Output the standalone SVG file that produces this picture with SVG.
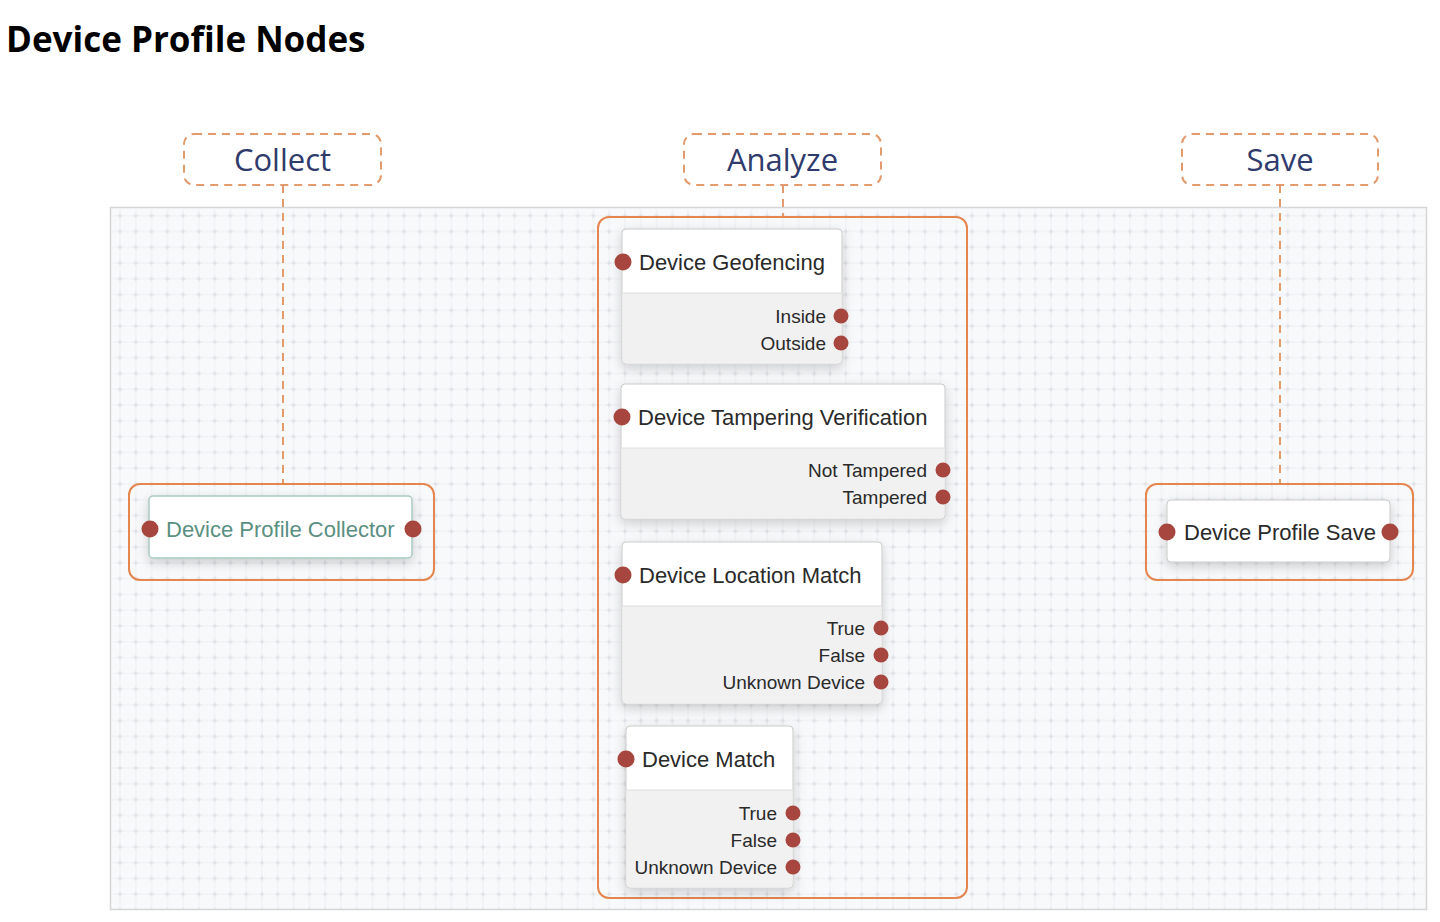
<svg xmlns="http://www.w3.org/2000/svg" width="1440" height="922" viewBox="0 0 1440 922">
<defs>
<pattern id="grid" patternUnits="userSpaceOnUse" x="112.1" y="207.8" width="15.78" height="15.78">
<path d="M7.89 0V15.78M0 7.89H15.78" stroke="#eef0f3" stroke-width="1" fill="none"/>
<path d="M5.4 7.89H10.4M7.89 5.4V10.4" stroke="#d9dbe0" stroke-width="1" fill="none"/>
</pattern>
<filter id="sh" x="-20%" y="-30%" width="140%" height="160%">
<feDropShadow dx="0" dy="4" stdDeviation="6" flood-color="#000" flood-opacity="0.18"/>
</filter>
</defs>
<style>
.title{font-family:"Open Sans","Noto Sans",sans-serif;font-weight:700;font-size:35px;fill:#000}
.glabel{font-family:"Open Sans","Noto Sans",sans-serif;font-size:31px;fill:#2f3b6c;text-anchor:middle}
.lbox{fill:none;stroke:#e39a6c;stroke-width:2;stroke-dasharray:8 6}
.conn{fill:none;stroke:#e39a6c;stroke-width:2;stroke-dasharray:8 6}
.group{fill:none;stroke:#e5864f;stroke-width:2}
.node{fill:#ffffff;stroke:#c9c9c9;stroke-width:1}
.body{fill:#f1f1f1}
.div{stroke:#dedede;stroke-width:1}
.nt{font-family:"Liberation Sans",Arial,sans-serif;font-size:22px;fill:#2a2a2a}
.ot{font-family:"Liberation Sans",Arial,sans-serif;font-size:19px;fill:#2a2a2a;text-anchor:end}
.port{fill:#a6463f}
</style>
<rect width="1440" height="922" fill="#ffffff"/>
<text class="title" x="6" y="52">Device Profile Nodes</text>

<g id="canvas">
<rect x="110.5" y="207.5" width="1316" height="702" fill="#f8f9fb" stroke="#d6d6d6" stroke-width="1.5"/>
<rect x="111" y="208" width="1315" height="701" fill="url(#grid)"/>
</g>

<g id="label-collect">
<rect class="lbox" x="184" y="134" width="197" height="51" rx="10"/>
<text class="glabel" x="282.5" y="171">Collect</text>
</g>
<g id="label-analyze">
<rect class="lbox" x="684" y="134" width="197" height="51" rx="10"/>
<text class="glabel" x="782.5" y="171">Analyze</text>
</g>
<g id="label-save">
<rect class="lbox" x="1182" y="134" width="196" height="51" rx="10"/>
<text class="glabel" x="1280" y="171">Save</text>
</g>

<g id="connectors">
<path class="conn" d="M283 185V484"/>
<path class="conn" d="M783 185V217"/>
<path class="conn" d="M1280 185V484"/>
</g>

<g id="group-collect">
<rect class="group" x="129" y="484" width="305" height="96" rx="11"/>
</g>
<g id="group-analyze">
<rect class="group" x="598" y="217" width="369" height="681" rx="11"/>
</g>
<g id="group-save">
<rect class="group" x="1146" y="484" width="267" height="96" rx="11"/>
</g>

<g id="node-device-profile-collector">
<rect x="149" y="496" width="263" height="62" rx="4" fill="#ffffff" stroke="#a9c9c1" stroke-width="1.5" filter="url(#sh)"/>
<text class="nt" x="166" y="537" style="fill:#5a8f82">Device Profile Collector</text>
<circle class="port" cx="150" cy="529" r="8.5"/>
<circle class="port" cx="413" cy="529" r="8.5"/>
</g>

<g id="node-device-geofencing">
<rect class="node" x="622" y="229" width="220" height="135" rx="4" filter="url(#sh)"/>
<path class="body" d="M622.5 293H841.5V360A3.5 3.5 0 0 1 838 363.5H626A3.5 3.5 0 0 1 622.5 360Z"/>
<line class="div" x1="622.5" y1="293" x2="841.5" y2="293"/>
<text class="nt" x="639" y="270">Device Geofencing</text>
<circle class="port" cx="623" cy="262" r="8.5"/>
<text class="ot" x="826" y="323">Inside</text>
<circle class="port" cx="841" cy="316" r="7.5"/>
<text class="ot" x="826" y="350">Outside</text>
<circle class="port" cx="841" cy="343" r="7.5"/>
</g>

<g id="node-device-tampering-verification">
<rect class="node" x="621" y="384" width="324" height="135" rx="4" filter="url(#sh)"/>
<path class="body" d="M621.5 448H944.5V515A3.5 3.5 0 0 1 941 518.5H625A3.5 3.5 0 0 1 621.5 515Z"/>
<line class="div" x1="621.5" y1="448" x2="944.5" y2="448"/>
<text class="nt" x="638" y="425">Device Tampering Verification</text>
<circle class="port" cx="622" cy="417" r="8.5"/>
<text class="ot" x="927" y="477">Not Tampered</text>
<circle class="port" cx="943" cy="470" r="7.5"/>
<text class="ot" x="927" y="504">Tampered</text>
<circle class="port" cx="943" cy="497" r="7.5"/>
</g>

<g id="node-device-location-match">
<rect class="node" x="622" y="542" width="260" height="162" rx="4" filter="url(#sh)"/>
<path class="body" d="M622.5 606H881.5V700A3.5 3.5 0 0 1 878 703.5H626A3.5 3.5 0 0 1 622.5 700Z"/>
<line class="div" x1="622.5" y1="606" x2="881.5" y2="606"/>
<text class="nt" x="639" y="583">Device Location Match</text>
<circle class="port" cx="623" cy="575" r="8.5"/>
<text class="ot" x="865" y="635">True</text>
<circle class="port" cx="881" cy="628" r="7.5"/>
<text class="ot" x="865" y="662">False</text>
<circle class="port" cx="881" cy="655" r="7.5"/>
<text class="ot" x="865" y="689">Unknown Device</text>
<circle class="port" cx="881" cy="682" r="7.5"/>
</g>

<g id="node-device-match">
<rect class="node" x="626" y="726" width="167" height="162" rx="4" filter="url(#sh)"/>
<path class="body" d="M626.5 790H792.5V884A3.5 3.5 0 0 1 789 887.5H630A3.5 3.5 0 0 1 626.5 884Z"/>
<line class="div" x1="626.5" y1="790" x2="792.5" y2="790"/>
<text class="nt" x="642" y="767">Device Match</text>
<circle class="port" cx="626" cy="759" r="8.5"/>
<text class="ot" x="777" y="820">True</text>
<circle class="port" cx="793" cy="813" r="7.5"/>
<text class="ot" x="777" y="847">False</text>
<circle class="port" cx="793" cy="840" r="7.5"/>
<text class="ot" x="777" y="874">Unknown Device</text>
<circle class="port" cx="793" cy="867" r="7.5"/>
</g>

<g id="node-device-profile-save">
<rect class="node" x="1167" y="500" width="223" height="62" rx="4" filter="url(#sh)"/>
<text class="nt" x="1184" y="540">Device Profile Save</text>
<circle class="port" cx="1167" cy="532" r="8.5"/>
<circle class="port" cx="1390" cy="532" r="8.5"/>
</g>
</svg>
